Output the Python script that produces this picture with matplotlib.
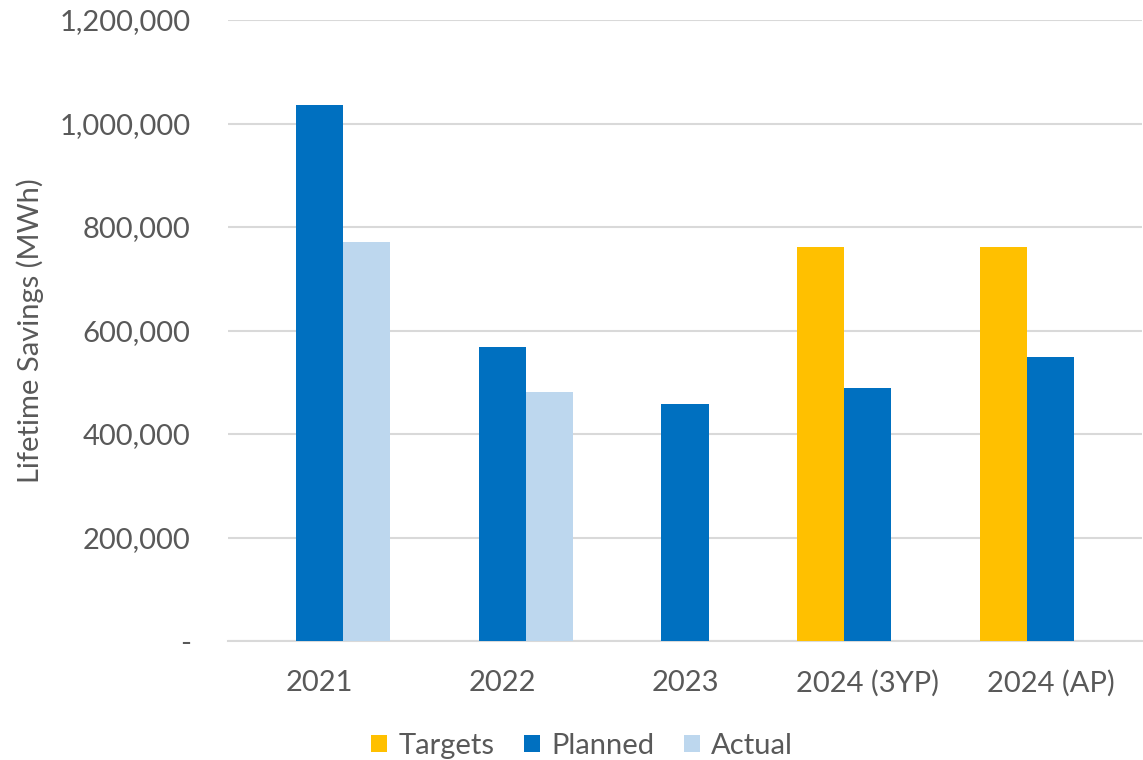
import matplotlib
matplotlib.use("Agg")
import matplotlib.pyplot as plt
import numpy as np
from matplotlib.ticker import FuncFormatter

categories = ["2021", "2022", "2023", "2024 (3YP)", "2024 (AP)"]
targets = [0, 0, 0, 761000, 761000]
planned = [1036000, 568000, 458000, 489000, 549000]
actual = [771000, 481000, 0, 0, 0]

series = [("Targets", targets, "#FFC000"),
          ("Planned", planned, "#0070C0"),
          ("Actual", actual, "#BDD7EE")]

plt.rcParams['font.family'] = ['Lato', 'DejaVu Sans']
txt = "#595959"
fs = 21

fig = plt.figure(figsize=(11.43, 7.6), dpi=100)
ax = fig.add_axes([228/1143, 119/760, 914/1143, 621/760])

x = np.arange(len(categories))
w = 0.258
for i, (name, vals, col) in enumerate(series):
    ax.bar(x + (i - 1) * w, vals, width=w, color=col, label=name, zorder=3)

ax.set_xlim(-0.5, len(categories) - 0.5)
ax.set_ylim(0, 1200000)
ax.set_yticks(np.arange(0, 1200001, 200000))
ax.yaxis.set_major_formatter(FuncFormatter(lambda v, p: "-" if v == 0 else f"{int(v):,}"))
ax.set_xticks(x)
ax.set_xticklabels(categories)
ax.tick_params(axis='both', length=0, labelsize=fs, colors=txt)
ax.tick_params(axis='y', pad=27)
ax.tick_params(axis='x', pad=21)
ax.grid(axis='y', color="#D9D9D9", linewidth=1.5, zorder=0)
for s in ["top", "right", "left"]:
    ax.spines[s].set_visible(False)
ax.spines["bottom"].set_color("#D9D9D9")
ax.spines["bottom"].set_linewidth(1.5)

fig.text(30/1143, 1 - 331/760, "Lifetime Savings (MWh)", rotation=90, ha="center", va="center",
         fontsize=fs, color=txt)

leg = fig.legend(loc="center", bbox_to_anchor=(582/1143, 1 - 746/760), ncol=3, frameon=False,
                 fontsize=fs, handlelength=0.55, handleheight=0.55, handletextpad=0.4,
                 columnspacing=1.0, labelcolor=txt)

fig.savefig("out.png", dpi=100)
